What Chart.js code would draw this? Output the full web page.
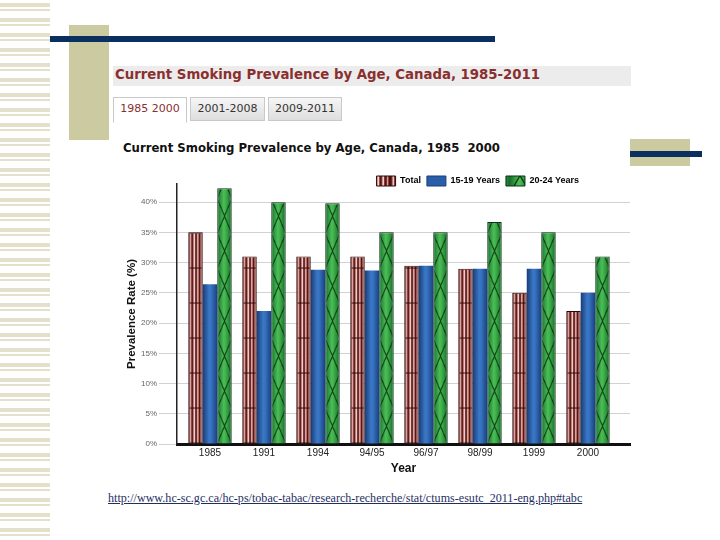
<!DOCTYPE html>
<html>
<head>
<meta charset="utf-8">
<title>Current Smoking Prevalence by Age, Canada</title>
<script src="https://cdn.jsdelivr.net/npm/chart.js@4.4.1/dist/chart.umd.min.js"></script>
<style>
  html, body { margin: 0; padding: 0; background: #fff; }
  body { width: 720px; height: 540px; position: relative; overflow: hidden; font-family: "DejaVu Sans", Verdana, sans-serif; }
  .abs { position: absolute; }
  #stripes { left: 0; top: 0; width: 50px; height: 540px;
    background: repeating-linear-gradient(to bottom, #fff 0, #fff 3px, #e3e1cc 3px, #e3e1cc 7px, #fff 7px, #fff 9px, #e3e1cc 9px, #e3e1cc 11px, #fff 11px, #fff 15px); }
  #sq1 { left: 69px; top: 25px; width: 40px; height: 115px; background: #cbcaa0; }
  #bar1 { left: 50px; top: 36px; width: 445px; height: 6px; background: #0b2f5e; }
  #sq2 { left: 630px; top: 139px; width: 60px; height: 27px; background: #cbcaa0; }
  #bar2 { left: 630px; top: 151px; width: 72px; height: 6px; background: #0b2f5e; }
  #band { left: 113px; top: 66px; width: 518px; height: 20px; background: #ececec; }
  #band span { position: absolute; left: 2px; top: 1px; font-weight: bold; font-size: 13.3px; color: #8a2f2f; white-space: nowrap; }
  .tab { top: 97px; height: 24px; box-sizing: border-box; border: 1px solid #c9c9c9; font-size: 11px; line-height: 22px; text-align: center; white-space: pre; color: #333;
    background: linear-gradient(#f6f6f6, #dedede); }
  #tab1 { left: 113px; width: 74px; background: #fff; color: #8a2f2f; border-bottom-color: #fff; height: 26px; }
  #tab2 { left: 190px; width: 75px; }
  #tab3 { left: 268px; width: 74px; }
  #ctitle { left: 123px; top: 141px; font-weight: bold; font-size: 11.7px; color: #111; white-space: pre; }
  #wrap { left: 110px; top: 158px; width: 530px; height: 324px; }
  #url { left: 108px; top: 491px; font-family: "Liberation Serif", "Times New Roman", serif; font-size: 12.1px; color: #1f2f5f; text-decoration: underline; white-space: nowrap; }
</style>
</head>
<body>
<div id="stripes" class="abs"></div>
<div id="sq1" class="abs"></div>
<div id="bar1" class="abs"></div>
<div id="sq2" class="abs"></div>
<div id="bar2" class="abs"></div>
<div id="band" class="abs"><span>Current Smoking Prevalence by Age, Canada, 1985-2011</span></div>
<div id="tab1" class="abs tab">1985 2000</div>
<div id="tab2" class="abs tab">2001-2008</div>
<div id="tab3" class="abs tab">2009-2011</div>
<div id="ctitle" class="abs">Current Smoking Prevalence by Age, Canada, 1985  2000</div>
<div id="wrap" class="abs"><canvas id="chart" width="530" height="324"></canvas></div>
<div id="url" class="abs">http://www.hc-sc.gc.ca/hc-ps/tobac-tabac/research-recherche/stat/ctums-esutc_2011-eng.php#tabc</div>

<script>
// values (percent)
var years = ['1985', '1991', '1994', '94/95', '96/97', '98/99', '1999', '2000'];
var seriesNames = ['Total', '15-19 Years', '20-24 Years'];
var totalRate = [35, 31, 31, 31, 29.5, 29, 25, 22];
var teenRate = [26.4, 22, 28.8, 28.7, 29.5, 29, 29, 25];
var youngAdultRate = [42.3, 40, 39.8, 35, 35, 36.7, 35, 31];
var yTickValues = [0, 5, 10, 15, 20, 25, 30, 35, 40];

// small offscreen tiles for the bar fills
function makeTile(w, h, draw) {
  var c = document.createElement('canvas');
  c.width = w;
  c.height = h;
  draw(c.getContext('2d'), w, h);
  return c;
}

var totalTile = makeTile(20, 35, function (g, w, h) {
  var cols = ['#4a1010', '#6e2222', '#b47c76', '#e6c9c4', '#8c3c38', '#5a1616',
    '#7c2c2a', '#d2a8a2', '#eed8d4', '#9a4c48', '#5e1818', '#7a2a28',
    '#c89a94', '#ead2ce', '#8a3a36', '#5a1414', '#763030', '#d0a29c', '#8e403c', '#4a1010'];
  for (var i = 0; i < w; i++) {
    g.fillStyle = cols[i];
    g.fillRect(i, 0, 1, h);
  }
  g.fillStyle = '#2e0808';
  g.fillRect(0, h - 1, w, 1);
});

var greenTile = makeTile(20, 70, function (g, w, h) {
  var grad = g.createLinearGradient(0, 0, w, 0);
  grad.addColorStop(0, '#17702c');
  grad.addColorStop(0.45, '#4cbf57');
  grad.addColorStop(0.6, '#3fae4a');
  grad.addColorStop(1, '#146a28');
  g.fillStyle = grad;
  g.fillRect(0, 0, w, h);
  g.strokeStyle = '#0c3314';
  g.lineWidth = 1.3;
  g.beginPath();
  g.moveTo(0, 0); g.lineTo(w, h / 2); g.lineTo(0, h);
  g.moveTo(w, 0); g.lineTo(0, h / 2); g.lineTo(w, h);
  g.stroke();
});

function tilePattern(ctx, tile, left, base, width) {
  var p = ctx.createPattern(tile, 'repeat');
  p.setTransform(new DOMMatrix().translate(left, base).scale(width / tile.width, 1));
  return p;
}

function blueGradient(ctx, left, width) {
  var grad = ctx.createLinearGradient(left, 0, left + width, 0);
  grad.addColorStop(0, '#183c78');
  grad.addColorStop(0.45, '#3b78c6');
  grad.addColorStop(0.6, '#3570bd');
  grad.addColorStop(1, '#17407f');
  return grad;
}

function barFill(kind) {
  return function (c) {
    var el = c.element;
    var fallback = kind === 'total' ? '#8a3c38' : kind === 'teen' ? '#2a5ea8' : '#2f9a40';
    if (!el || c.type !== 'data' || !el.width || el.base === undefined) return fallback;
    var left = el.x - el.width / 2;
    var ctx = c.chart.ctx;
    if (kind === 'teen') return blueGradient(ctx, left, el.width);
    return tilePattern(ctx, kind === 'total' ? totalTile : greenTile, left, el.base, el.width);
  };
}

function toPoints(arr) {
  return arr.map(function (v, i) { return { x: i, y: v }; });
}

var scratch = document.createElement('canvas').getContext('2d');
var legendFills = [
  tilePattern(scratch, totalTile, 0, 0, 20),
  '#2a5ea8',
  tilePattern(scratch, greenTile, 0, 0, 20)
];

// the legend sits over the upper right part of the plot
var legendNudge = {
  id: 'legendNudge',
  afterLayout: function (chart) {
    var lg = chart.legend;
    if (!lg) return;
    lg.right = chart.chartArea.right - 45;
    lg.top += 12;
    lg.bottom += 12;
  }
};

var chart = new Chart(document.getElementById('chart'), {
  type: 'bar',
  data: {
    datasets: [
      { label: seriesNames[0], data: toPoints(totalRate), backgroundColor: barFill('total'), borderColor: '#2e0808', borderWidth: 1 },
      { label: seriesNames[1], data: toPoints(teenRate), backgroundColor: barFill('teen'), borderWidth: 0 },
      { label: seriesNames[2], data: toPoints(youngAdultRate), backgroundColor: barFill('green'), borderColor: '#0c3314', borderWidth: 1 }
    ]
  },
  options: {
    responsive: false,
    animation: false,
    events: [],
    categoryPercentage: 0.805,
    barPercentage: 1,
    layout: { padding: { left: 0, right: 10, top: 0, bottom: 0 } },
    scales: {
      x: {
        type: 'linear',
        offset: false,
        min: -0.611,
        max: 7.778,
        afterBuildTicks: function (scale) {
          scale.ticks = years.map(function (y, i) { return { value: i }; });
        },
        afterFit: function (scale) { scale.height = 38; },
        ticks: {
          callback: function (v) { return years[v]; },
          color: '#222',
          font: { family: '"Liberation Sans", Arial, sans-serif', size: 10 },
          padding: 3,
          maxRotation: 0,
          autoSkip: false
        },
        grid: { drawOnChartArea: false, drawTicks: false },
        border: { color: '#111', width: 3 },
        title: {
          display: true,
          text: 'Year',
          color: '#111',
          font: { family: '"Liberation Sans", Arial, sans-serif', size: 12, weight: 'bold' },
          padding: { top: 0, bottom: 6 }
        }
      },
      y: {
        min: 0,
        max: 43,
        afterBuildTicks: function (scale) {
          scale.ticks = yTickValues.map(function (v) { return { value: v }; });
        },
        afterFit: function (scale) { scale.width = 67; },
        ticks: {
          callback: function (v) { return v + '%'; },
          color: '#666',
          font: { family: '"Liberation Sans Narrow", "Liberation Sans", Arial, sans-serif', size: 8 },
          padding: 2
        },
        grid: { color: '#d2d2d2', lineWidth: 1, tickLength: 18 },
        border: { color: '#222', width: 1.5 },
        title: {
          display: true,
          text: 'Prevalence Rate (%)',
          color: '#111',
          font: { family: '"Liberation Sans", Arial, sans-serif', size: 11.5, weight: 'bold' },
          padding: { top: 15, bottom: 0 }
        }
      }
    },
    plugins: {
      title: { display: false },
      tooltip: { enabled: false },
      legend: {
        display: true,
        position: 'top',
        align: 'end',
        labels: {
          boxWidth: 19,
          boxHeight: 10,
          padding: 6,
          color: '#222',
          font: { family: '"Liberation Sans Narrow", "Liberation Sans", Arial, sans-serif', size: 9, weight: 'bold' },
          generateLabels: function (ch) {
            return ch.data.datasets.map(function (ds, i) {
              return {
                text: ds.label,
                fillStyle: legendFills[i],
                strokeStyle: i === 1 ? '#1a3f7a' : ds.borderColor,
                lineWidth: 1,
                datasetIndex: i,
                hidden: false
              };
            });
          }
        }
      }
    }
  },
  plugins: [legendNudge]
});

// second pass: bars now have their pixel positions, so the fills can follow them
chart.update('none');
</script>
</body>
</html>
